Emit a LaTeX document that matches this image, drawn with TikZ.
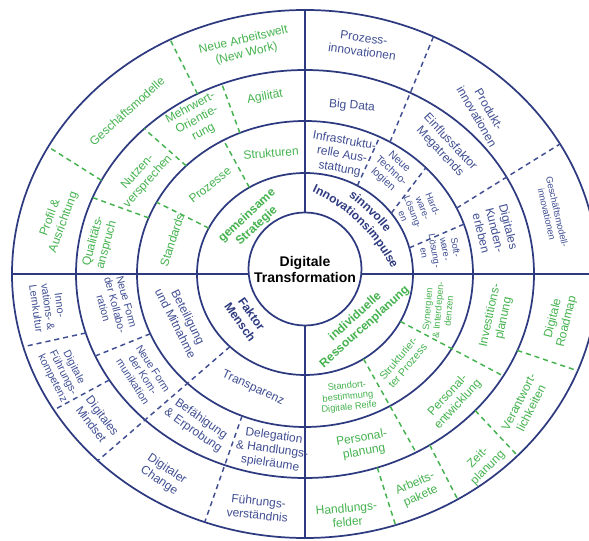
\documentclass[tikz,border=0pt]{standalone}
\usepackage{fontspec}
\setmainfont{Liberation Sans}
\usetikzlibrary{decorations.text}
\definecolor{navy}{RGB}{46,58,128}
\definecolor{bluetxt}{RGB}{64,78,146}
\definecolor{grn}{RGB}{68,178,78}

\begin{document}
\begin{tikzpicture}
		[x=0.75pt, y=0.75pt,
		ring/.style={draw=navy, line width=1.3pt},
		bsep/.style={draw=bluetxt, line width=1.1pt, dash pattern=on 3.8pt off 3pt},
		gsep/.style={draw=grn, line width=1.1pt, dash pattern=on 3.8pt off 3pt},
		lbl/.style={align=center, inner sep=0pt, font=\fontsize{9}{10.5}\selectfont},
		blbl/.style={lbl, text=bluetxt},
		glbl/.style={lbl, text=grn},
		small/.style={font=\fontsize{8}{9}\selectfont},
		tiny/.style={font=\fontsize{7}{8}\selectfont},
		head/.style={font=\fontsize{9}{10.5}\selectfont\bfseries},
		]
		\clip (-305,-267) rectangle (284,274);
		
		% rings and axes
		\draw[ring] (0,5) circle [radius=56.5];
		\draw[ring] (0,0) ellipse [x radius=108, y radius=101];
		\draw[ring] (0,0) ellipse [x radius=168, y radius=153];
		\draw[ring] (0,0) ellipse [x radius=229, y radius=204];
		\draw[ring] (0,0) ellipse [x radius=293, y radius=264];
		\draw[ring] (0,61.5) -- (0,264);
		\draw[ring] (0,-51.5) -- (0,-264);
		\draw[ring] (-56.3,0) -- (-293,0);
		\draw[ring] (56.3,0) -- (293,0);
		
		\node[font=\fontsize{10.5}{12}\selectfont\bfseries, align=center, inner sep=0pt] (dt) at (0,4.5) {Digitale\\Transformation};
		
		% gemeinsame Strategie
		\draw[gsep] (153:108 and 101) -- (152:168 and 153);
		\draw[gsep] (121:108 and 101) -- (119:168 and 153);
		\draw[gsep] (158.5:168 and 153) -- (158:229 and 204);
		\draw[gsep] (135:168 and 153) -- (134.6:229 and 204);
		\draw[gsep] (112.8:168 and 153) -- (111.3:229 and 204);
		\draw[gsep] (152.7:229 and 204) -- (151.2:293 and 264);
		\draw[gsep] (118:229 and 204) -- (117.4:293 and 264);
		
		\node[glbl, head, rotate=43] (strat) at (-53,53) {gemeinsame\\Strategie};
		\node[glbl, rotate=72] (stand) at (-133,34) {Standards};
		\node[glbl, rotate=39] (proz) at (-95,89) {Prozesse};
		\node[glbl, rotate=5] (struk) at (-34,121) {Strukturen};
		\node[glbl, rotate=75] (qual) at (-205,31) {Qualitäts-\\anspruch};
		\node[glbl, rotate=48] (nutz) at (-162,97) {Nutzen-\\versprechen};
		\node[glbl, rotate=28] (mehr) at (-108,154) {Mehrwert-\\Orientie-\\rung};
		\node[glbl, rotate=10] (agil) at (-40,177) {Agilität};
		\node[glbl, rotate=70] (prof) at (-248,54) {Profil \&\\Ausrichtung};
		\node[glbl, rotate=42] (gesch) at (-178,163) {Geschäftsmodelle};
		\node[glbl, rotate=13] (work) at (-60,227) {Neue Arbeitswelt\\(New Work)};
		
		% sinnvolle Innovationsimpulse
		\draw[bsep] (61:108 and 101) -- (63.6:168 and 153);
		\draw[bsep] (37:108 and 101) -- (44:168 and 153);
		\draw[bsep] (15:108 and 101) -- (19:168 and 153);
		\draw[bsep] (59.6:168 and 153) -- (64:293 and 264);
		\draw[bsep] (25.5:168 and 153) -- (29.5:293 and 264);
		
		\path[decorate, decoration={text along path, text align=center,
				text={|\fontsize{9}{9}\selectfont\bfseries\color{navy}|sinnvolle}}]
			(-63,-70) ++(82:182) arc [start angle=82, end angle=10, radius=182];
		\path[decorate, decoration={text along path, text align=center,
				text={|\fontsize{9}{9}\selectfont\bfseries\color{navy}|Innovationsimpulse}}]
			(-63,-70) ++(82:167.5) arc [start angle=82, end angle=10, radius=167.5];
		\node[blbl, rotate=-10] (infra) at (37,119) {Infrastruktu-\\relle Aus-\\stattung};
		\node[blbl, small, rotate=-42] (techno) at (86,103) {Neue\\Techno-\\logien};
		\node[blbl, tiny, rotate=-68] (hard) at (113,64) {Hard-\\ware-\\Lösung-\\en};
		\node[blbl, tiny, rotate=-80] (soft) at (135,24) {Soft-\\ware-\\Lösung-\\en};
		\node[blbl, rotate=-5] (bigdata) at (47,168) {Big Data};
		\node[blbl, rotate=-47] (mega) at (140,127) {Einflussfaktor\\Megatrends};
		\node[blbl, rotate=-76] (kunden) at (190,44) {Digitales\\Kunden-\\erleben};
		\node[blbl, rotate=-8] (prozinno) at (58,229) {Prozess-\\innovationen};
		\node[blbl, rotate=-60] (produkt) at (178,161) {Produkt-\\innovationen};
		\node[blbl, tiny, rotate=-77] (gmi) at (247,61) {Geschäftsmodell-\\innovationen};
		
		% Faktor Mensch
		\draw[bsep] (226:108 and 101) -- (225:293 and 264);
		\draw[bsep] (203:168 and 153) -- (203.7:229 and 204);
		\draw[bsep] (248:168 and 153) -- (250:293 and 264);
		\draw[bsep] (196.8:229 and 204) -- (196:293 and 264);
		\draw[bsep] (211.3:229 and 204) -- (211:293 and 264);
		
		\node[blbl, head, text=navy, rotate=-55] (mensch) at (-59,-44) {Faktor\\Mensch};
		\node[blbl, rotate=-63] (betei) at (-123,-46) {Beteiligung\\und Mitnahme};
		\node[blbl, rotate=-25] (transp) at (-52,-114) {Transparenz};
		\node[blbl, small, rotate=-75] (kollab) at (-190,-31) {Neue Form\\der Kollabo-\\ration};
		\node[blbl, small, rotate=-57] (kommu) at (-162,-101) {Neue Form\\der Kom-\\munikation};
		\node[blbl, rotate=-35] (befae) at (-108,-151) {Befähigung\\\& Erprobung};
		\node[blbl, rotate=-8] (deleg) at (-33,-176) {Delegation\\\& Handlungs-\\spielräume};
		\node[blbl, small, rotate=-82] (lern) at (-257,-33) {Inno-\\vations- \&\\Lernkultur};
		\node[blbl, small, rotate=-63] (fkomp) at (-242,-99) {Digitale\\Führungs-\\kompetenz};
		\node[blbl, rotate=-53] (mind) at (-208,-146) {Digitales\\Mindset};
		\node[blbl, rotate=-34] (change) at (-142,-201) {Digitaler\\Change};
		\node[blbl, rotate=-6] (fverst) at (-47,-234) {Führungs-\\verständnis};
		
		% individuelle Ressourcenplanung
		\draw[gsep] (-57.2:108 and 101) -- (-61:229 and 204);
		\draw[gsep] (-28:108 and 101) -- (-30:229 and 204);
		\draw[gsep] (-71.6:229 and 204) -- (-72:293 and 264);
		\draw[gsep] (-57:229 and 204) -- (-58.6:293 and 264);
		\draw[gsep] (-42:229 and 204) -- (-43.5:293 and 264);
		\draw[gsep] (-22:229 and 204) -- (-21.5:293 and 264);
		
		\node[glbl, head, rotate=42] (ressource) at (55,-48) {individuelle\\Ressourcenplanung};
		\node[glbl, tiny, rotate=6] (standort) at (43,-123) {Standort-\\bestimmung\\Digitale Reife};
		\node[glbl, small, rotate=50] (strukpro) at (98,-88) {Strukturier-\\ter Prozess};
		\node[glbl, tiny, rotate=85] (synerg) at (133,-36) {Synergien\\\& Interdepen-\\denzen};
		\node[glbl, rotate=10] (pplan) at (58,-171) {Personal-\\planung};
		\node[glbl, rotate=47] (pentw) at (148,-126) {Personal-\\entwicklung};
		\node[glbl, rotate=78] (invest) at (192,-43) {Investitions-\\planung};
		\node[glbl, rotate=5] (hfeld) at (42,-241) {Handlungs-\\felder};
		\node[glbl, rotate=24] (apaket) at (113,-216) {Arbeits-\\pakete};
		\node[glbl, rotate=45] (zeit) at (178,-189) {Zeit-\\planung};
		\node[glbl, rotate=63] (verant) at (220,-131) {Verantwort-\\lichkeiten};
		\node[glbl, rotate=76] (roadmap) at (255,-46) {Digitale\\Roadmap};
		
	\end{tikzpicture}
\end{document}
